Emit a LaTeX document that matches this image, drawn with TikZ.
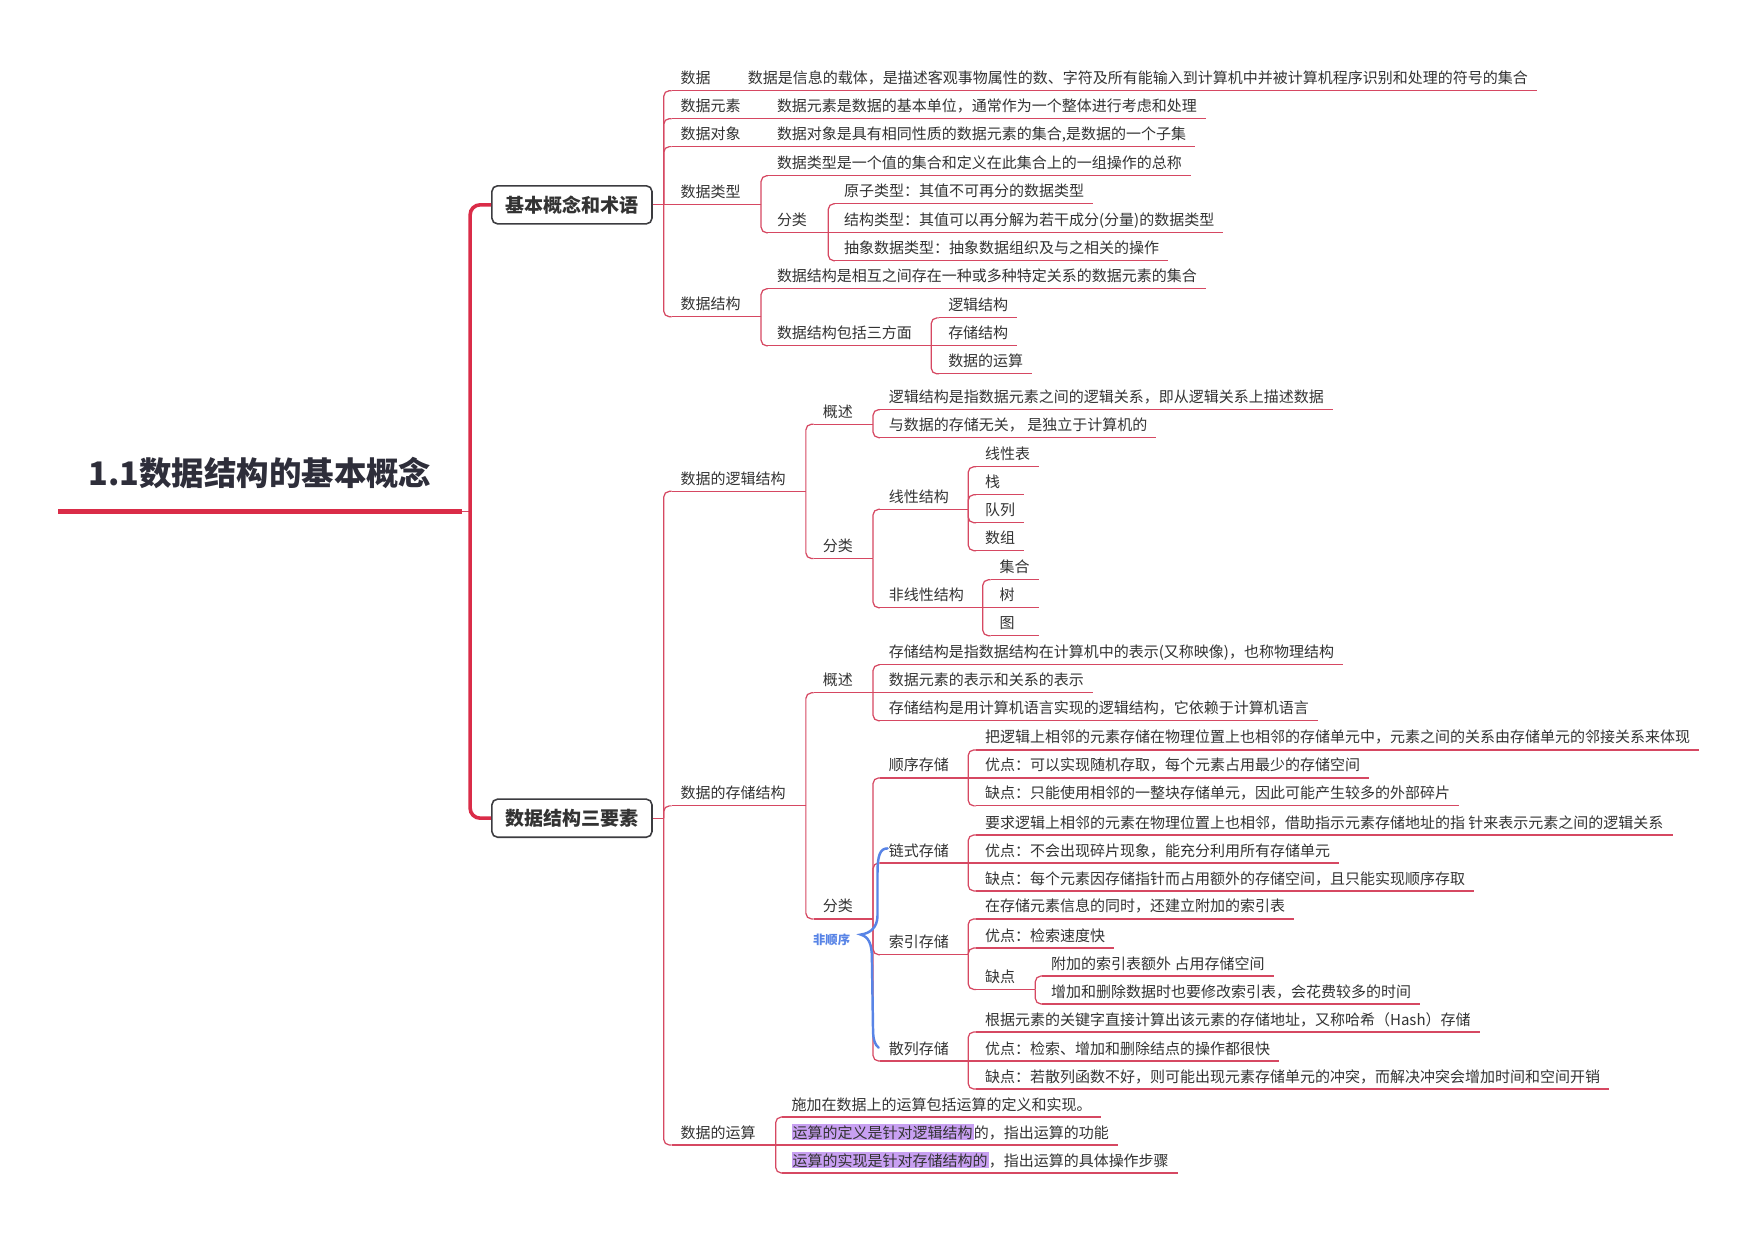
\documentclass[tikz,border=0pt]{standalone}
\usepackage{fontspec}
\setmainfont{Noto Sans CJK SC}
\usetikzlibrary{calc}
\definecolor{cLine}{RGB}{214,72,98}
\definecolor{cThick}{RGB}{218,44,72}
\definecolor{cTxt}{RGB}{51,51,51}
\definecolor{cTtl}{RGB}{46,46,58}
\definecolor{cBox}{RGB}{60,60,64}
\definecolor{cHl}{RGB}{200,160,242}
\definecolor{cBlue}{RGB}{88,132,230}
\newcommand\fs{\fontsize{13.4}{16}\selectfont}
\newcommand\hlt[1]{{\setlength{\fboxsep}{1pt}\colorbox{cHl}{#1}}}
\newcommand\lnk[3]{\draw[ln] (#1.south east) -- (#1.south east -| #2);
  \foreach \c in {#3} {\draw[ln,rounded corners=5pt] (#1.south east -| #2) |- (\c.south west);}}
\newcommand\lnkS[2]{\draw[ln] (#1.south east) -- (#2.south west);}
\newcommand\blnk[3]{\draw[ln] (#1.east) -- (#1.east -| #2);
  \foreach \c in {#3} {\draw[ln,rounded corners=5pt] (#1.east -| #2) |- (\c.south west);}}
\begin{document}
\begin{tikzpicture}[x=1pt,y=-1pt,
 ln/.style={draw=cLine,line width=1.1pt},
 t/.style={anchor=south west,inner xsep=8pt,inner ysep=6pt,text height=10pt,text depth=0pt,font=\fs,text=cTxt},
 bx/.style={draw=cBox,line width=1.4pt,rounded corners=5pt,fill=white,minimum width=143pt,minimum height=34pt,font=\fontsize{17}{20}\selectfont\bfseries,text=cTxt,inner sep=0pt}]
\useasboundingbox[fill=white] (0,0) rectangle (1568,1108);
% vertical coordinates
\coordinate (bx) at (420,0);
\coordinate (xa) at (593,0);
\coordinate (xb) at (655,0);
\coordinate (xc) at (680,0);
\coordinate (xd) at (740,0);
\coordinate (xe) at (832,0);
\coordinate (xf) at (720,0);
\coordinate (xg) at (780,0);
\coordinate (xh) at (865,0);
\coordinate (xi) at (878,0);
\coordinate (xj) at (925,0);
\coordinate (xk) at (693,0);
% root
\node[anchor=south west,minimum width=360pt,inner xsep=0pt,inner ysep=23pt,text height=21pt,text depth=0pt,font=\fontsize{29}{33}\selectfont\bfseries,text=cTtl] (root) at (52,457) {1.1数据结构的基本概念};
\node[bx] (b1) at (511,183) {基本概念和术语};
\node[bx] (b2) at (511,731) {数据结构三要素};
\draw[line width=4pt,cThick] (root.south west) -- (root.south east);
\draw[ln] (root.south east) -- (root.south east -| bx);
\draw[line width=3.2pt,cThick,rounded corners=9pt] (b1.west) -| (root.south east -| bx) |- (b2.west);
% section 1
\node[t] (n1) at (600,81) {数据};
\node[t] (n1a) at (660,81) {数据是信息的载体，是描述客观事物属性的数、字符及所有能输入到计算机中并被计算机程序识别和处理的符号的集合};
\node[t] (n2) at (600,106) {数据元素};
\node[t] (n2a) at (686,106) {数据元素是数据的基本单位，通常作为一个整体进行考虑和处理};
\node[t] (n3) at (600,131) {数据对象};
\node[t] (n3a) at (686,131) {数据对象是具有相同性质的数据元素的集合,是数据的一个子集};
\node[t] (n4) at (600,183) {数据类型};
\node[t] (n4a) at (686,157) {数据类型是一个值的集合和定义在此集合上的一组操作的总称};
\node[t] (n4b) at (686,208) {分类};
\node[t] (n4b1) at (746,182) {原子类型：其值不可再分的数据类型};
\node[t] (n4b2) at (746,208) {结构类型：其值可以再分解为若干成分(分量)的数据类型};
\node[t] (n4b3) at (746,233) {抽象数据类型：抽象数据组织及与之相关的操作};
\node[t] (n5) at (600,283) {数据结构};
\node[t] (n5a) at (686,258) {数据结构是相互之间存在一种或多种特定关系的数据元素的集合};
\node[t] (n5b) at (686,309) {数据结构包括三方面};
\node[t] (n5b1) at (839,284) {逻辑结构};
\node[t] (n5b2) at (839,309) {存储结构};
\node[t] (n5b3) at (839,334) {数据的运算};
% section 2
\node[t] (m1) at (600,439) {数据的逻辑结构};
\node[t] (m1a) at (727,379) {概述};
\node[t] (m1a1) at (786,366) {逻辑结构是指数据元素之间的逻辑关系，即从逻辑关系上描述数据};
\node[t] (m1a2) at (786,391) {与数据的存储无关， 是独立于计算机的};
\node[t] (m1b) at (727,499) {分类};
\node[t] (m1b1) at (786,455) {线性结构};
\node[t] (l1) at (872,417) {线性表};
\node[t] (l2) at (872,442) {栈\phantom{栈}};
\node[t] (l3) at (872,467) {队列};
\node[t] (l4) at (872,492) {数组};
\node[t] (m1b2) at (786,543) {非线性结构};
\node[t] (q1) at (885,518) {集合};
\node[t] (q2) at (885,543) {树\phantom{树}};
\node[t] (q3) at (885,568) {图\phantom{图}};
\node[t] (m2) at (600,720) {数据的存储结构};
\node[t] (m2a) at (727,619) {概述};
\node[t] (m2a1) at (786,594) {存储结构是指数据结构在计算机中的表示(又称映像)，也称物理结构};
\node[t] (m2a2) at (786,619) {数据元素的表示和关系的表示};
\node[t] (m2a3) at (786,644) {存储结构是用计算机语言实现的逻辑结构，它依赖于计算机语言};
\node[t] (m2b) at (727,821) {分类};
\node[t] (s1) at (786,695) {顺序存储};
\node[t] (s1a) at (872,670) {把逻辑上相邻的元素存储在物理位置上也相邻的存储单元中，元素之间的关系由存储单元的邻接关系来体现};
\node[t] (s1b) at (872,695) {优点：可以实现随机存取，每个元素占用最少的存储空间};
\node[t] (s1c) at (872,720) {缺点：只能使用相邻的一整块存储单元，因此可能产生较多的外部碎片};
\node[t] (s2) at (786,771) {链式存储};
\node[t] (s2a) at (872,746) {要求逻辑上相邻的元素在物理位置上也相邻，借助指示元素存储地址的指 针来表示元素之间的逻辑关系};
\node[t] (s2b) at (872,771) {优点：不会出现碎片现象，能充分利用所有存储单元};
\node[t] (s2c) at (872,796) {缺点：每个元素因存储指针而占用额外的存储空间，且只能实现顺序存取};
\node[t] (s3) at (786,853) {索引存储};
\node[t] (s3a) at (872,821) {在存储元素信息的同时，还建立附加的索引表};
\node[t] (s3b) at (872,847) {优点：检索速度快};
\node[t] (s3c) at (872,884) {缺点};
\node[t] (s3c1) at (931,872) {附加的索引表额外 占用存储空间};
\node[t] (s3c2) at (931,897) {增加和删除数据时也要修改索引表，会花费较多的时间};
\node[t] (s4) at (786,948) {散列存储};
\node[t] (s4a) at (872,922) {根据元素的关键字直接计算出该元素的存储地址，又称哈希（Hash）存储};
\node[t] (s4b) at (872,948) {优点：检索、增加和删除结点的操作都很快};
\node[t] (s4c) at (872,973) {缺点：若散列函数不好，则可能出现元素存储单元的冲突，而解决冲突会增加时间和空间开销};
\node[t] (m3) at (600,1023) {数据的运算};
\node[t] (m3a) at (699,998) {施加在数据上的运算包括运算的定义和实现。};
\node[t] (m3b) at (699,1023) {\hlt{运算的定义是针对逻辑结构}的，指出运算的功能};
\node[t] (m3c) at (699,1048) {\hlt{运算的实现是针对存储结构的}，指出运算的具体操作步骤};
% underlines
\foreach \n in {n1,n1a,n2,n2a,n3,n3a,n4,n4a,n4b,n4b1,n4b2,n4b3,n5,n5a,n5b,n5b1,n5b2,n5b3,
  m1,m1a,m1a1,m1a2,m1b,m1b1,l1,l2,l3,l4,m1b2,q1,q2,q3,
  m2,m2a,m2a1,m2a2,m2a3,m2b,s1,s1a,s1b,s1c,s2,s2a,s2b,s2c,s3,s3a,s3b,s3c,s3c1,s3c2,s4,s4a,s4b,s4c,
  m3,m3a,m3b,m3c}
  {\draw[ln] (\n.south west) -- (\n.south east);}
% connectors
\blnk{b1}{xa}{n1,n2,n3,n5}
\draw[ln] (b1.east) -- (n4.south west);
\lnkS{n1}{n1a}
\lnkS{n2}{n2a}
\lnkS{n3}{n3a}
\lnk{n4}{xc}{n4a,n4b}
\lnk{n4b}{xd}{n4b1,n4b3}
\lnkS{n4b}{n4b2}
\lnk{n5}{xc}{n5a,n5b}
\lnk{n5b}{xe}{n5b1,n5b3}
\lnkS{n5b}{n5b2}
\blnk{b2}{xa}{m1,m2,m3}
\lnk{m1}{xf}{m1a,m1b}
\lnk{m1a}{xg}{m1a1,m1a2}
\lnk{m1b}{xg}{m1b1,m1b2}
\lnk{m1b1}{xh}{l1,l2,l3,l4}
\lnk{m1b2}{xi}{q1,q3}
\lnkS{m1b2}{q2}
\lnk{m2}{xf}{m2a,m2b}
\lnk{m2a}{xg}{m2a1,m2a3}
\lnkS{m2a}{m2a2}
\lnk{m2b}{xg}{s1,s2,s3,s4}
\lnk{s1}{xh}{s1a,s1c}
\lnkS{s1}{s1b}
\lnk{s2}{xh}{s2a,s2c}
\lnkS{s2}{s2b}
\lnk{s3}{xh}{s3a,s3b,s3c}
\lnk{s3c}{xj}{s3c1,s3c2}
\lnk{s4}{xh}{s4a,s4c}
\lnkS{s4}{s4b}
\lnk{m3}{xk}{m3a,m3c}
\lnkS{m3}{m3b}
% blue annotation
\draw[cBlue,line width=2.2pt,line cap=round] (793,758) .. controls (786,758) and (784,765) .. (784,780) -- (784,818) .. controls (784,829) and (777,834) .. (769,835) .. controls (776,837) and (779,843) .. (779,856) -- (780,920) .. controls (780,929) and (782,934) .. (785,936);
\node[font=\fontsize{11}{13}\selectfont\bfseries,text=cBlue] (fsx) at (743,840) {非顺序};
\end{tikzpicture}
\end{document}
